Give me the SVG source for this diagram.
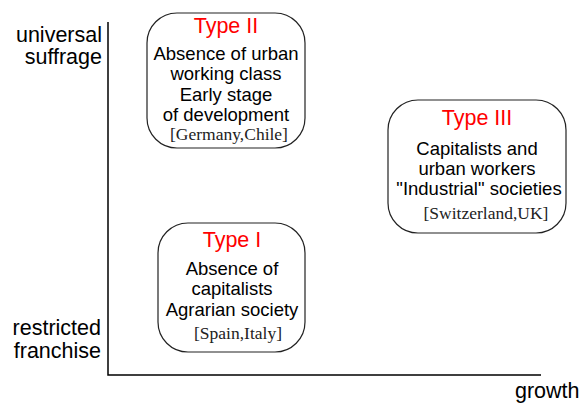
<svg xmlns="http://www.w3.org/2000/svg" width="582" height="404" viewBox="0 0 582 404">
<style>
.ax{font-family:"Liberation Sans",Arial,sans-serif;font-size:21.5px;fill:#000}
.t{font-family:"Liberation Sans",Arial,sans-serif;font-size:21.5px;fill:#ff0000;text-anchor:middle}
.b{font-family:"Liberation Sans",Arial,sans-serif;font-size:18.5px;fill:#000;text-anchor:middle}
.s{font-family:"Liberation Serif","Times New Roman",serif;font-size:17.5px;fill:#222;text-anchor:middle}
.box{fill:#fff;stroke:#222;stroke-width:1.2}
.axis{stroke:#000;stroke-width:1.5;fill:none}
</style>
<rect width="582" height="404" fill="#fff"/>
<g id="axes">
<path class="axis" d="M108,22 V375 H541"/>
<text class="ax" x="102" y="42" text-anchor="end">universal</text>
<text class="ax" x="102" y="64" text-anchor="end">suffrage</text>
<text class="ax" x="101" y="335" text-anchor="end">restricted</text>
<text class="ax" x="101" y="358" text-anchor="end">franchise</text>
<text class="ax" x="515" y="398">growth</text>
</g>
<g id="type2">
<rect class="box" x="147" y="13" width="158" height="135" rx="30" ry="30"/>
<text class="t" x="226" y="33">Type II</text>
<text class="b" x="226" y="60">Absence of urban</text>
<text class="b" x="226" y="80">working class</text>
<text class="b" x="226" y="101">Early stage</text>
<text class="b" x="226" y="121">of development</text>
<text class="s" x="229" y="140">[Germany,Chile]</text>
</g>
<g id="type3">
<rect class="box" x="388" y="100" width="178" height="133" rx="30" ry="30"/>
<text class="t" x="477" y="125">Type III</text>
<text class="b" x="477" y="155">Capitalists and</text>
<text class="b" x="477" y="175">urban workers</text>
<text class="b" x="479" y="195">"Industrial" societies</text>
<text class="s" x="486" y="219">[Switzerland,UK]</text>
</g>
<g id="type1">
<rect class="box" x="158" y="223" width="147" height="129" rx="30" ry="30"/>
<text class="t" x="232" y="247">Type I</text>
<text class="b" x="232" y="275">Absence of</text>
<text class="b" x="232" y="295">capitalists</text>
<text class="b" x="232" y="316">Agrarian society</text>
<text class="s" x="238" y="339">[Spain,Italy]</text>
</g>
</svg>
